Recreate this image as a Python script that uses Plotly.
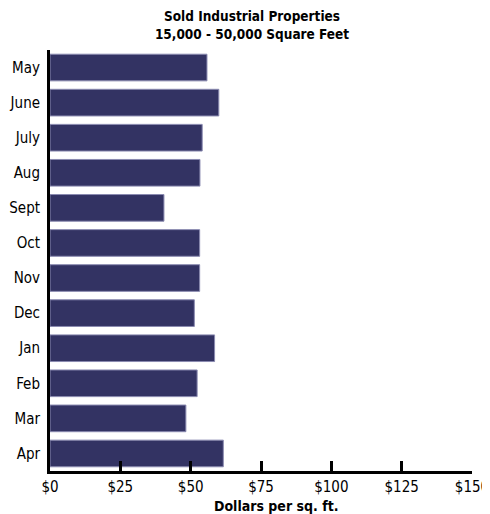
import plotly.graph_objects as go

months = ["May", "June", "July", "Aug", "Sept", "Oct", "Nov", "Dec", "Jan", "Feb", "Mar", "Apr"]
values = [55.8, 60.0, 54.1, 53.3, 40.5, 53.2, 53.2, 51.3, 58.5, 52.3, 48.3, 61.6]
x_ticks = [0, 25, 50, 75, 100, 125, 150]
x_tick_labels = ["$0", "$25", "$50", "$75", "$100", "$125", "$150"]

FONT = "DejaVu Sans Condensed, Liberation Sans Narrow, Roboto, sans-serif"

# The page body adds an 8px offset, so the figure is sized to fit the window.
W, H = 482, 506
L, R, T, B = 41.5, 18, 42, 43
plot_w = W - L - R
plot_h = H - T - B

fig = go.Figure(go.Bar(
    x=values, y=months, orientation="h",
    marker=dict(color="#333363", line=dict(color="#8a8ab0", width=1)),
))

fig.update_layout(
    width=W, height=H,
    margin=dict(l=L, r=R, t=T, b=B, autoexpand=False),
    paper_bgcolor="white", plot_bgcolor="white",
    bargap=0.24,
    showlegend=False,
    font=dict(family=FONT, size=15, color="black"),
    title=dict(
        text="<b>Sold Industrial Properties<br>15,000 - 50,000 Square Feet</b>",
        x=244 / W, xanchor="center", yref="paper", y=1, yanchor="bottom",
        font=dict(family=FONT, size=13.5, color="black"),
        pad=dict(b=29),
    ),
    xaxis=dict(
        range=[0, 150], tickvals=x_ticks, ticktext=x_tick_labels,
        showgrid=False, zeroline=False, automargin=False,
        showline=True, linecolor="black", linewidth=3,
        ticks="inside", ticklen=10, tickwidth=3, tickcolor="black",
        tickfont=dict(family=FONT, size=15),
    ),
    yaxis=dict(
        categoryorder="array", categoryarray=months, autorange="reversed",
        showgrid=False, zeroline=False, automargin=False,
        showline=True, linecolor="black", linewidth=3,
        ticks="", ticklabelstandoff=4,
        tickfont=dict(family=FONT, size=15),
    ),
    annotations=[dict(
        text="<b>Dollars per sq. ft.</b>", xref="paper", yref="paper",
        x=(276 - 49.5) / plot_w, y=-35 / plot_h, xanchor="center", yanchor="middle",
        showarrow=False, font=dict(family=FONT, size=14, color="black"),
    )],
)

fig.write_html("out.html")
